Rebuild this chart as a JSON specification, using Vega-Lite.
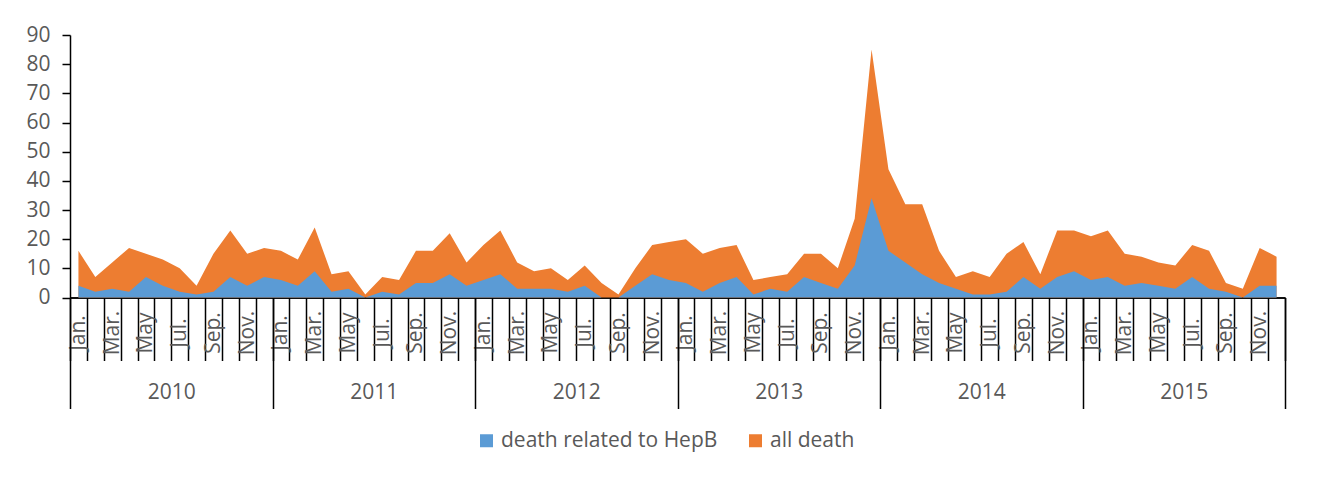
{
  "$schema": "https://vega.github.io/schema/vega-lite/v6.json",
  "width": 1215,
  "height": 262.5,
  "autosize": {"type": "none"},
  "padding": {"left": 70, "top": 35, "right": 34, "bottom": 183.5},
  "background": "white",
  "config": {"view": {"stroke": null}, "font": "Open Sans"},
  "data": {
    "values": [
      {"t": 0.5, "all": 16, "hepb": 4}, {"t": 1.5, "all": 7, "hepb": 2}, {"t": 2.5, "all": 12, "hepb": 3},
      {"t": 3.5, "all": 17, "hepb": 2}, {"t": 4.5, "all": 15, "hepb": 7}, {"t": 5.5, "all": 13, "hepb": 4},
      {"t": 6.5, "all": 10, "hepb": 2}, {"t": 7.5, "all": 4, "hepb": 1}, {"t": 8.5, "all": 15, "hepb": 2},
      {"t": 9.5, "all": 23, "hepb": 7}, {"t": 10.5, "all": 15, "hepb": 4}, {"t": 11.5, "all": 17, "hepb": 7},
      {"t": 12.5, "all": 16, "hepb": 6}, {"t": 13.5, "all": 13, "hepb": 4}, {"t": 14.5, "all": 24, "hepb": 9},
      {"t": 15.5, "all": 8, "hepb": 2}, {"t": 16.5, "all": 9, "hepb": 3}, {"t": 17.5, "all": 1, "hepb": 0},
      {"t": 18.5, "all": 7, "hepb": 2}, {"t": 19.5, "all": 6, "hepb": 1}, {"t": 20.5, "all": 16, "hepb": 5},
      {"t": 21.5, "all": 16, "hepb": 5}, {"t": 22.5, "all": 22, "hepb": 8}, {"t": 23.5, "all": 12, "hepb": 4},
      {"t": 24.5, "all": 18, "hepb": 6}, {"t": 25.5, "all": 23, "hepb": 8}, {"t": 26.5, "all": 12, "hepb": 3},
      {"t": 27.5, "all": 9, "hepb": 3}, {"t": 28.5, "all": 10, "hepb": 3}, {"t": 29.5, "all": 6, "hepb": 2},
      {"t": 30.5, "all": 11, "hepb": 4}, {"t": 31.5, "all": 5, "hepb": 0}, {"t": 32.5, "all": 1, "hepb": 0},
      {"t": 33.5, "all": 10, "hepb": 4}, {"t": 34.5, "all": 18, "hepb": 8}, {"t": 35.5, "all": 19, "hepb": 6},
      {"t": 36.5, "all": 20, "hepb": 5}, {"t": 37.5, "all": 15, "hepb": 2}, {"t": 38.5, "all": 17, "hepb": 5},
      {"t": 39.5, "all": 18, "hepb": 7}, {"t": 40.5, "all": 6, "hepb": 1}, {"t": 41.5, "all": 7, "hepb": 3},
      {"t": 42.5, "all": 8, "hepb": 2}, {"t": 43.5, "all": 15, "hepb": 7}, {"t": 44.5, "all": 15, "hepb": 5},
      {"t": 45.5, "all": 10, "hepb": 3}, {"t": 46.5, "all": 27, "hepb": 11}, {"t": 47.5, "all": 85, "hepb": 34},
      {"t": 48.5, "all": 44, "hepb": 16}, {"t": 49.5, "all": 32, "hepb": 12}, {"t": 50.5, "all": 32, "hepb": 8},
      {"t": 51.5, "all": 16, "hepb": 5}, {"t": 52.5, "all": 7, "hepb": 3}, {"t": 53.5, "all": 9, "hepb": 1},
      {"t": 54.5, "all": 7, "hepb": 1}, {"t": 55.5, "all": 15, "hepb": 2}, {"t": 56.5, "all": 19, "hepb": 7},
      {"t": 57.5, "all": 8, "hepb": 3}, {"t": 58.5, "all": 23, "hepb": 7}, {"t": 59.5, "all": 23, "hepb": 9},
      {"t": 60.5, "all": 21, "hepb": 6}, {"t": 61.5, "all": 23, "hepb": 7}, {"t": 62.5, "all": 15, "hepb": 4},
      {"t": 63.5, "all": 14, "hepb": 5}, {"t": 64.5, "all": 12, "hepb": 4}, {"t": 65.5, "all": 11, "hepb": 3},
      {"t": 66.5, "all": 18, "hepb": 7}, {"t": 67.5, "all": 16, "hepb": 3}, {"t": 68.5, "all": 5, "hepb": 2},
      {"t": 69.5, "all": 3, "hepb": 0}, {"t": 70.5, "all": 17, "hepb": 4}, {"t": 71.5, "all": 14, "hepb": 4}
    ]
  },
  "layer": [
    {
      "mark": {"type": "area", "opacity": 1},
      "encoding": {
        "x": {
          "field": "t", "type": "quantitative",
          "scale": {"domain": [0, 72], "nice": false, "zero": false},
          "axis": {
            "orient": "bottom", "title": null, "grid": false,
            "values": [0,1,2,3,4,5,6,7,8,9,10,11,12,13,14,15,16,17,18,19,20,21,22,23,24,25,26,27,28,29,30,31,32,33,34,35,36,37,38,39,40,41,42,43,44,45,46,47,48,49,50,51,52,53,54,55,56,57,58,59,60,61,62,63,64,65,66,67,68,69,70,71,72],
            "tickSize": 63, "tickWidth": 1.5, "tickColor": "black",
            "domainColor": "black", "domainWidth": 1.5,
            "labelExpr": "datum.value % 2 == 0 && datum.value < 72 ? ['Jan.','Feb.','Mar.','Apr.','May','Jun.','Jul.','Aug.','Sep.','Oct.','Nov.','Dec.'][datum.value % 12] : ''",
            "labelAngle": -90, "labelAlign": "center", "labelBaseline": "middle",
            "labelPadding": -28, "labelOffset": 8.44,
            "labelFontSize": 21, "labelColor": "#595959",
            "labelFlush": false, "labelOverlap": false, "labelBound": false
          }
        },
        "y": {
          "field": "all", "type": "quantitative", "stack": null,
          "scale": {"domain": [0, 90], "nice": false},
          "axis": {
            "title": null, "grid": false,
            "values": [0,10,20,30,40,50,60,70,80,90],
            "tickSize": 8, "tickWidth": 1.5, "tickColor": "black",
            "domainColor": "black", "domainWidth": 1.5,
            "labelFontSize": 21, "labelColor": "#595959", "labelPadding": 12,
            "labelOverlap": false, "labelFlush": false, "labelBound": false
          }
        },
        "color": {
          "datum": "all death", "type": "nominal",
          "scale": {"domain": ["death related to HepB", "all death"], "range": ["#5B9BD5", "#ED7D31"]},
          "legend": {
            "title": null, "orient": "none", "legendX": 406, "legendY": 395,
            "direction": "horizontal", "symbolType": "square", "symbolSize": 169,
            "symbolStrokeWidth": 0, "labelFontSize": 21, "labelColor": "#595959",
            "labelOffset": 4, "columnPadding": 27, "labelLimit": 0
          }
        }
      }
    },
    {
      "mark": {"type": "area", "opacity": 1},
      "encoding": {
        "x": {
          "field": "t", "type": "quantitative",
          "axis": {
            "orient": "bottom", "title": null, "grid": false,
            "values": [0, 12, 24, 36, 48, 60, 72],
            "tickSize": 111, "tickWidth": 1.5, "tickColor": "black",
            "domainColor": "black", "domainWidth": 1.5,
            "labelExpr": "datum.value < 72 ? '' + (2010 + datum.value / 12) : ''",
            "labelAngle": 0, "labelAlign": "center", "labelBaseline": "middle",
            "labelPadding": -16, "labelOffset": 101.25,
            "labelFontSize": 21, "labelColor": "#595959",
            "labelFlush": false, "labelOverlap": false, "labelBound": false
          }
        },
        "y": {
          "field": "hepb", "type": "quantitative", "stack": null,
          "scale": {"domain": [0, 90], "nice": false},
          "axis": {
            "title": null, "grid": false,
            "values": [0,10,20,30,40,50,60,70,80,90],
            "tickSize": 8, "tickWidth": 1.5, "tickColor": "black",
            "domainColor": "black", "domainWidth": 1.5,
            "labelFontSize": 21, "labelColor": "#595959", "labelPadding": 12,
            "labelOverlap": false, "labelFlush": false, "labelBound": false
          }
        },
        "color": {"datum": "death related to HepB", "type": "nominal"}
      }
    }
  ],
  "resolve": {"axis": {"x": "independent"}}
}
